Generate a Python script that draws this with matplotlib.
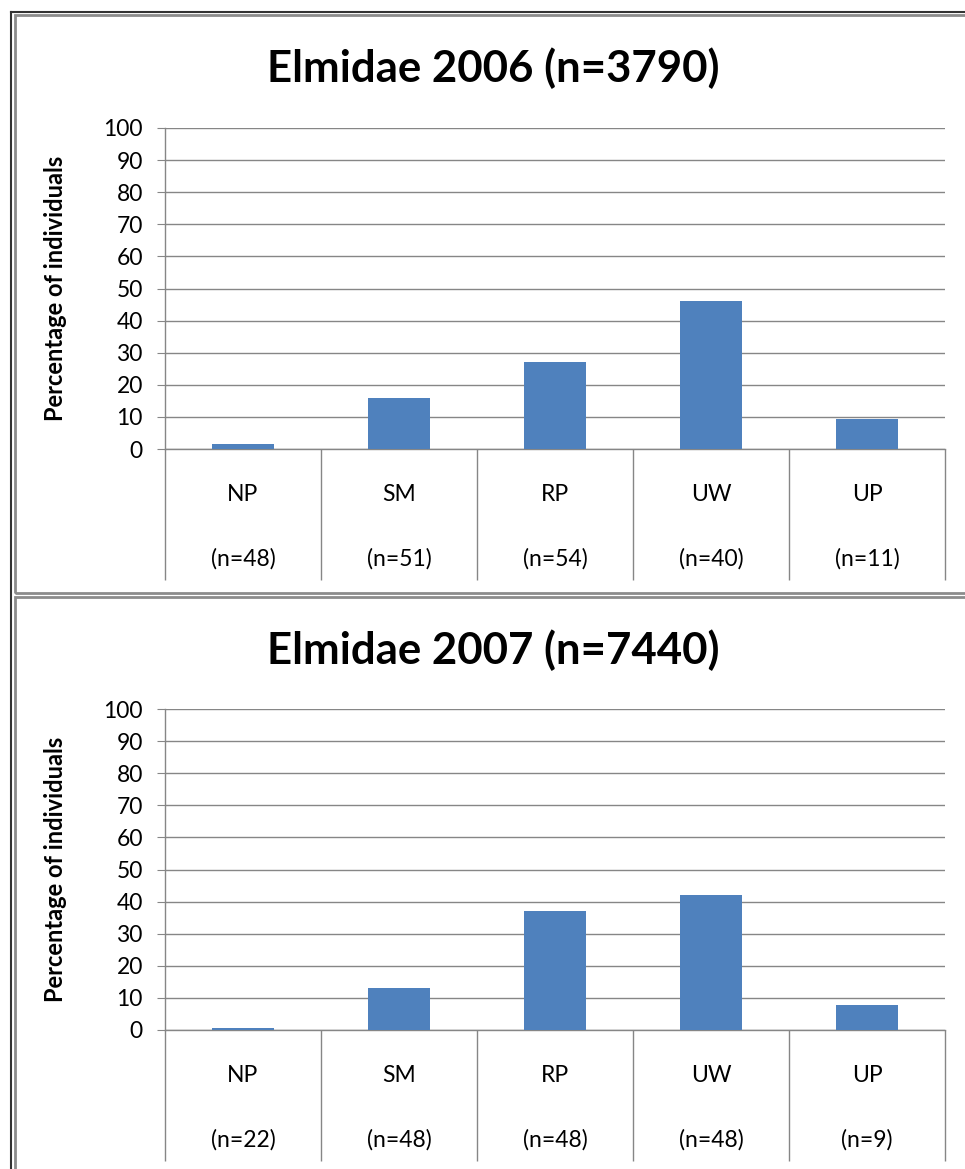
import numpy as np
import matplotlib.pyplot as plt
from matplotlib.patches import Rectangle
from matplotlib.lines import Line2D

plt.rcParams['font.family'] = ['Lato', 'DejaVu Sans']

categories = ['NP', 'SM', 'RP', 'UW', 'UP']

title_2006 = 'Elmidae 2006 (n=3790)'
values_2006 = [1.5, 15.8, 27.0, 46.2, 9.4]
counts_2006 = [48, 51, 54, 40, 11]

title_2007 = 'Elmidae 2007 (n=7440)'
values_2007 = [0.6, 13.1, 37.1, 42.0, 7.9]
counts_2007 = [22, 48, 48, 48, 9]

BLUE = '#4F81BD'
GRID = '#868686'
W, H = 965, 1169

fig = plt.figure(figsize=(W / 100, H / 100), dpi=100)


def px_box(left, top, right, bottom):
    return [left / W, 1 - bottom / H, (right - left) / W, (bottom - top) / H]


def draw_panel(box, title, title_y, values, counts):
    ax = fig.add_axes(px_box(*box))
    x = np.arange(len(categories))
    ax.bar(x, values, width=0.4, color=BLUE, zorder=3)
    ax.set_xlim(-0.5, len(categories) - 0.5)
    ax.set_ylim(0, 100)
    ax.set_yticks(np.arange(0, 101, 10))
    ax.grid(axis='y', color=GRID, linewidth=1, zorder=0)
    for s in ['top', 'right']:
        ax.spines[s].set_visible(False)
    for s in ['left', 'bottom']:
        ax.spines[s].set_color(GRID)
        ax.spines[s].set_linewidth(1)
    ax.tick_params(axis='y', length=6, color=GRID, labelsize=16.5, pad=10)
    ax.set_xticks(x)
    ax.set_xticklabels([f'{c}\n({"n=" + str(n)})' for c, n in zip(categories, counts)],
                       linespacing=3.5)
    ax.tick_params(axis='x', which='major', length=0, labelsize=16.5, pad=25)
    ax.set_xticks(np.arange(-0.5, len(categories)), minor=True)
    ax.tick_params(axis='x', which='minor', length=94, width=1, color=GRID)
    ax.set_ylabel('Percentage of individuals', fontsize=17, fontweight='bold')
    ax.yaxis.set_label_coords(-0.1256, 0.5)
    fig.text(493 / W, 1 - title_y / H, title, ha='center', va='center',
             fontsize=31.5, fontweight='bold')
    return ax


draw_panel((165, 128, 945, 449), title_2006, 68, values_2006, counts_2006)
draw_panel((165, 709, 945, 1030), title_2007, 650, values_2007, counts_2007)

# frame around the two chart panels
for top, bottom in [(15, 593), (597, 1175)]:
    fig.add_artist(Rectangle((15 / W, 1 - bottom / H), 960 / W, (bottom - top) / H,
                             transform=fig.transFigure, fill=False,
                             edgecolor='#8C8C8C', linewidth=2))
fig.add_artist(Line2D([11 / W, 11 / W], [0, 1 - 12 / H], transform=fig.transFigure,
                      color='#333333', linewidth=1.5))
fig.add_artist(Line2D([11 / W, 1], [1 - 12 / H, 1 - 12 / H], transform=fig.transFigure,
                      color='#333333', linewidth=1.5))

fig.savefig('out.png', dpi=100)
